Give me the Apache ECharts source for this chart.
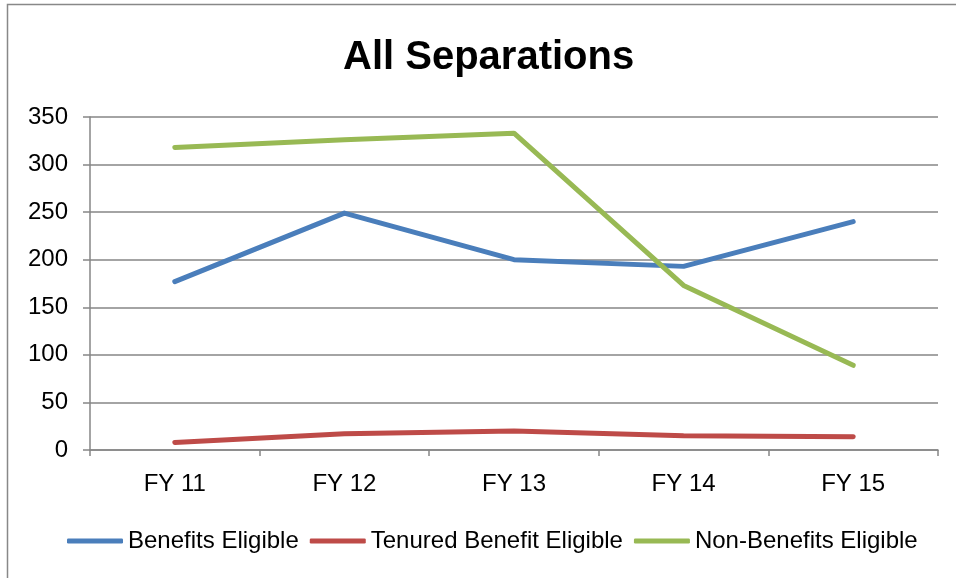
<!DOCTYPE html>
<html>
<head>
<meta charset="utf-8">
<script src="https://cdn.jsdelivr.net/npm/echarts@6/dist/echarts.min.js"></script>
<style>
    html, body { margin: 0; padding: 0; background: #fff; }
    #chart { width: 956px; height: 578px; }
</style>
</head>
<body>
<div id="chart"></div>
<script>
    var categories = ['FY 11', 'FY 12', 'FY 13', 'FY 14', 'FY 15'];
    var benefitsEligible = [177, 249, 200, 193, 240];
    var tenuredBenefitEligible = [8, 17, 20, 15, 14];
    var nonBenefitsEligible = [318, 326, 333, 173, 89];

    var font = 'Liberation Sans';
    var myChart = echarts.init(document.getElementById('chart'));

    function lineSeries(name, data, color) {
        return {
            name: name,
            type: 'line',
            data: data,
            symbol: 'none',
            lineStyle: { color: color, width: 5, cap: 'round', join: 'round' },
            itemStyle: { color: color }
        };
    }

    var option = {
        animation: false,
        backgroundColor: '#fff',
        graphic: [
            {   // outer frame
                type: 'rect',
                shape: { x: 7.5, y: 4.5, width: 960, height: 600 },
                style: { fill: 'none', stroke: '#888', lineWidth: 1.5 },
                silent: true
            }
        ],
        title: {
            text: 'All Separations',
            left: 338,
            top: 33,
            textStyle: { fontFamily: font, fontSize: 40, fontWeight: 'bold', color: '#000' }
        },
        legend: {
            bottom: 20,
            left: 62,
            itemWidth: 56,
            itemHeight: 5,
            itemGap: 11,
            icon: 'roundRect',
            textStyle: { fontFamily: font, fontSize: 24, color: '#000' },
            data: ['Benefits Eligible', 'Tenured Benefit Eligible', 'Non-Benefits Eligible']
        },
        grid: {
            left: 90,
            right: 18,
            top: 117,
            bottom: 128,
            containLabel: false
        },
        xAxis: {
            type: 'category',
            data: categories,
            boundaryGap: true,
            axisLine: { show: true, lineStyle: { color: '#868686', width: 1.5 } },
            axisTick: { show: true, length: 6, lineStyle: { color: '#868686', width: 1.5 } },
            axisLabel: { fontFamily: font, fontSize: 24, color: '#000', margin: 22 }
        },
        yAxis: {
            type: 'value',
            min: 0,
            max: 350,
            interval: 50,
            axisLine: { show: true, lineStyle: { color: '#868686', width: 1.5 } },
            axisTick: { show: true, length: 7, lineStyle: { color: '#868686', width: 1.5 } },
            axisLabel: { fontFamily: font, fontSize: 24, color: '#000', margin: 22 },
            splitLine: { show: true, lineStyle: { color: '#868686', width: 1.5 } }
        },
        series: [
            lineSeries('Benefits Eligible', benefitsEligible, '#4a7ebb'),
            lineSeries('Tenured Benefit Eligible', tenuredBenefitEligible, '#be4b48'),
            lineSeries('Non-Benefits Eligible', nonBenefitsEligible, '#98b954')
        ]
    };
    myChart.setOption(option);
</script>
</body>
</html>
